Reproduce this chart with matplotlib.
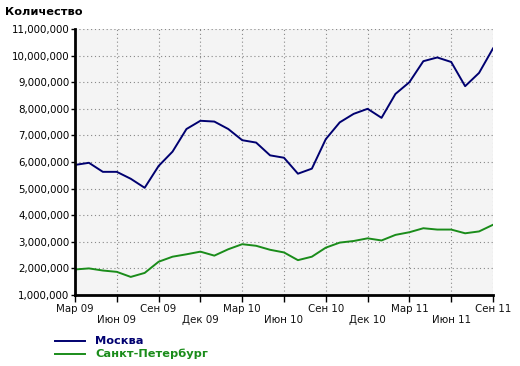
import matplotlib
matplotlib.use("Agg")
import matplotlib.pyplot as plt
from matplotlib.ticker import FuncFormatter, MultipleLocator

plt.rcParams['font.family'] = ['DejaVu Sans']

# monthly data, Mar 2009 .. Sep 2011 (millions)
months = list(range(31))
moscow = [5.89, 5.97, 5.63, 5.63, 5.37, 5.03, 5.85, 6.39, 7.24, 7.55, 7.52,
          7.24, 6.82, 6.73, 6.25, 6.16, 5.56, 5.75, 6.86, 7.49, 7.81, 8.0,
          7.66, 8.56, 9.0, 9.79, 9.93, 9.76, 8.85, 9.35, 10.27]
spb = [1.96, 2.0, 1.92, 1.87, 1.68, 1.83, 2.25, 2.44, 2.53, 2.63, 2.48,
       2.72, 2.91, 2.85, 2.7, 2.6, 2.31, 2.44, 2.78, 2.97, 3.03, 3.13,
       3.05, 3.26, 3.36, 3.51, 3.46, 3.46, 3.32, 3.39, 3.64]
tick_labels = ['Мар 09', 'Июн 09', 'Сен 09', 'Дек 09', 'Мар 10', 'Июн 10',
               'Сен 10', 'Дек 10', 'Мар 11', 'Июн 11', 'Сен 11']
series_names = ['Москва', 'Санкт-Петербург']
colors = ['#000070', '#1a8c1a']

fig = plt.figure(figsize=(5.2, 3.66), dpi=100)
ax = fig.add_axes([75/520, 1 - 295/366, 418/520, 266/366])
ax.set_facecolor('#f4f4f4')

ax.plot(months, [m * 1e6 for m in moscow], color=colors[0], lw=1.4)
ax.plot(months, [m * 1e6 for m in spb], color=colors[1], lw=1.4)

ax.set_xlim(0, 30)
ax.set_ylim(1e6, 11e6)
ax.yaxis.set_major_locator(MultipleLocator(1e6))
ax.yaxis.set_major_formatter(FuncFormatter(lambda v, p: f'{int(v):,}'))
ax.set_xticks(range(0, 31, 3))
ax.set_xticklabels([])
for i, lab in enumerate(tick_labels):
    ax.annotate(lab, (i * 3, 0), xycoords=('data', 'axes fraction'),
                xytext=(0, -14 if i % 2 == 0 else -25), textcoords='offset pixels',
                ha='center', va='center', fontsize=7.4, color='#111111')

ax.grid(True, color='#888888', linestyle=(0, (1, 2.5)), linewidth=0.8)
for s in ['top', 'right']:
    ax.spines[s].set_visible(False)
for s in ['left', 'bottom']:
    ax.spines[s].set_linewidth(2)
ax.tick_params(axis='y', length=3, width=1, labelsize=7.4, pad=1)
ax.tick_params(axis='x', length=5, width=1, direction='out')

fig.text(5/520, 1 - 12/366, 'Количество', fontsize=8.2, fontweight='bold', va='center')

# legend
for k, (name, c) in enumerate(zip(series_names, colors)):
    y = 1 - (341 + 13 * k) / 366
    fig.add_artist(plt.Line2D([55/520, 85/520], [y, y], color=c, lw=1.4))
    fig.text(95/520, y, name, color=c, fontsize=8.2, fontweight='bold', va='center')

fig.savefig('out.png', dpi=100)
